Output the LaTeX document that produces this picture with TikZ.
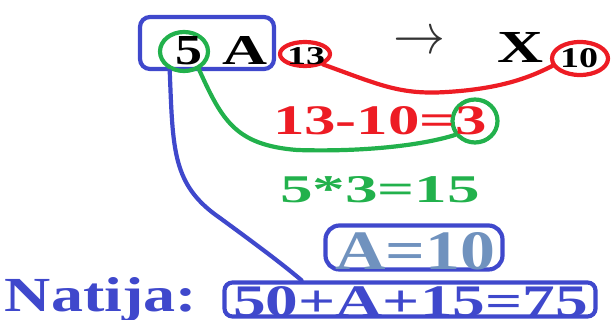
\documentclass[tikz,border=0pt]{standalone}
\usepackage{fontspec}
\setmainfont{Liberation Serif}
\usepackage{graphicx}
\usetikzlibrary{shapes.geometric}
\definecolor{pblue}{RGB}{63,72,204}
\definecolor{pred}{RGB}{237,28,36}
\definecolor{pgreen}{RGB}{34,177,76}
\definecolor{pgray}{RGB}{112,146,190}
\begin{document}
\begin{tikzpicture}[x=1pt,y=-1pt,
  txt/.style={inner sep=0pt, outer sep=0pt, anchor=south west, font=\bfseries},
  ring/.style={ellipse, draw, line width=4.2pt, inner sep=0pt},
  frame/.style={draw=pblue, line width=4.2pt, inner sep=0pt, rectangle},
  link/.style={line width=4.2pt, line cap=round}]
\useasboundingbox (0,0) rectangle (612,320);
% frames
\node[frame, rounded corners=10pt, minimum width=134pt, minimum height=52pt] (b5A) at (207,43) {};
\node[frame, rounded corners=14pt, minimum width=177pt, minimum height=44pt] (bA) at (414,247.5) {};
\node[frame, rounded corners=8pt, minimum width=371pt, minimum height=34pt] (bR) at (410,299.5) {};
% rings
\node[ring, draw=pgreen, minimum width=48pt, minimum height=39pt] (c5) at (184,51.5) {};
\node[ring, draw=pred, minimum width=50pt, minimum height=24pt] (c13) at (305,54) {};
\node[ring, draw=pred, minimum width=56pt, minimum height=33pt] (c10) at (580,58.5) {};
\node[ring, draw=pgreen, minimum width=45pt, minimum height=43pt] (c3) at (475,121) {};
% connectors
\draw[link, pred] (c13.-30) .. controls (380,85) and (400,95) .. (447,92)
  .. controls (495,89) and (525,80) .. (c10.195);
\draw[link, pgreen] (c5.-50) .. controls (222,120) and (235,145) .. (297,150)
  .. controls (360,152) and (420,146) .. (c3.215);
\draw[link, pblue] (b5A.-143) .. controls (173,150) and (172,185) .. (220,218)
  .. controls (250,240) and (280,262) .. (bR.170.4);
% texts
\node[txt] (t5) at (175,65) {\resizebox{27pt}{28pt}{5}};
\node[txt] (tA) at (222,65) {\resizebox{45pt}{28pt}{A}};
\node[txt] (t13) at (287,65) {\resizebox{38pt}{17pt}{13}};
\node[inner sep=0pt, text=black!80] (arr) at (419,43) {\resizebox{52pt}{21pt}{$\rightarrow$}};
\node[txt] (tX) at (497,63) {\resizebox{46pt}{30pt}{X}};
\node[txt] (t10) at (560,68) {\resizebox{38pt}{19pt}{10}};
\node[txt, text=pred] (e1) at (273,135) {\resizebox{214pt}{28pt}{13-10=3}};
\node[txt, text=pgreen] (e2) at (280,203) {\resizebox{200pt}{26pt}{5*3=15}};
\node[txt, text=pgray] (e3) at (335,270) {\resizebox{160pt}{37pt}{A=10}};
\node[txt, anchor=base west, text=pblue] (nat) at (5,311) {\resizebox{192pt}{34pt}{Natija:}};
\node[txt, text=pblue] (res) at (233,316.5) {\resizebox{355pt}{30pt}{50+A+15=75}};
\end{tikzpicture}
\end{document}
